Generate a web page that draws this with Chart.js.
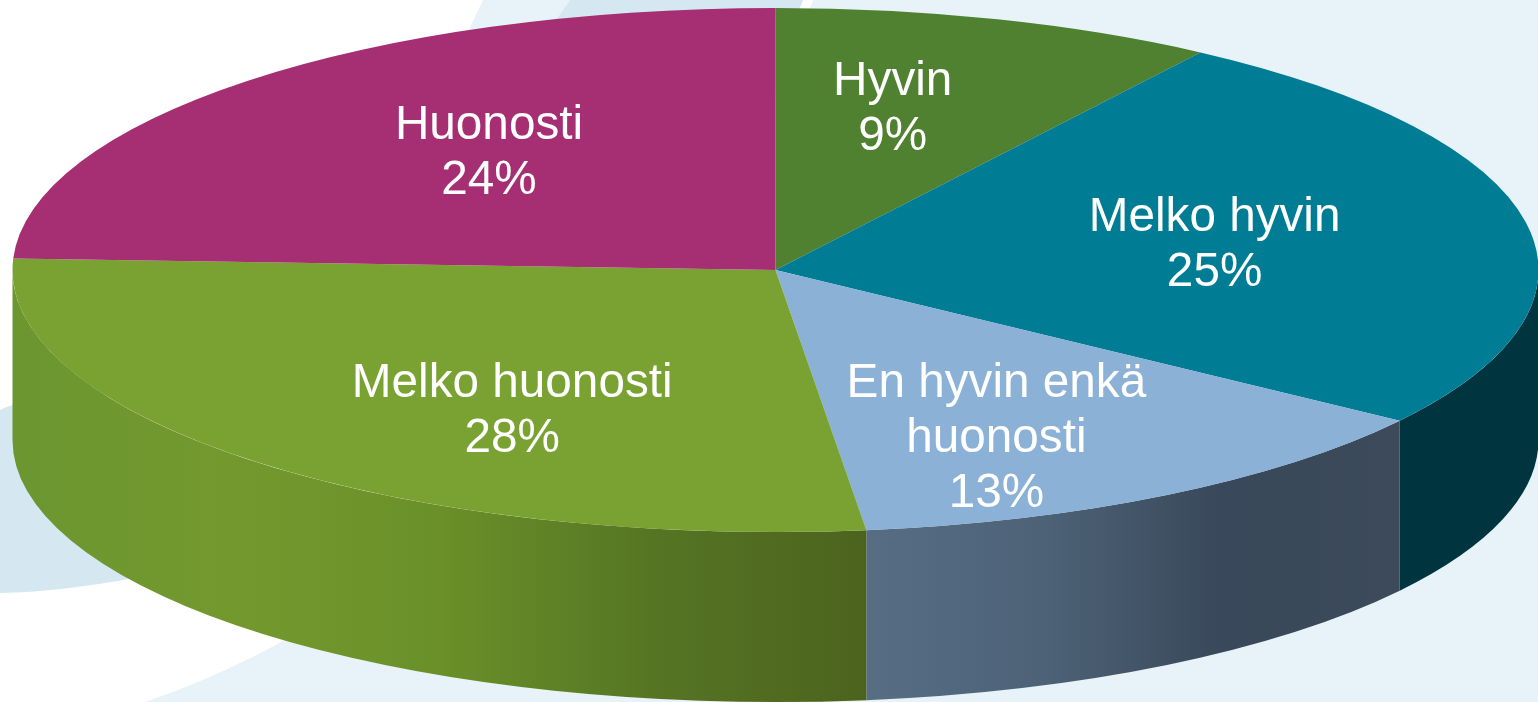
<!DOCTYPE html>
<html lang="fi">
<head>
<meta charset="utf-8">
<title>Kuinka hyvin</title>
<script src="https://cdn.jsdelivr.net/npm/chart.js@4"></script>
<style>
  html, body { margin: 0; padding: 0; background: #fff; overflow: hidden; }
  #wrap { position: relative; width: 1538px; height: 702px; }
  #bg { position: absolute; left: 0; top: 0; }
  #pie { position: absolute; left: 0; top: 0; }
</style>
</head>
<body>
<div id="wrap">
  <svg id="bg" width="1538" height="702" viewBox="0 0 1538 702">
    <path fill="#e7f3f8" d="M483 0 L440 90 L1538 90 L1538 0 Z"/>
    <path fill="#ffffff" d="M803 0 L813 0 L805 20 L795 20 Z"/>
    <path fill="#d5e8f1" d="M570 0 L803 0 L795 20 L556 20 Z"/>
    <rect fill="#e7f3f8" x="800" y="20" width="738" height="682"/>
    <path fill="#e7f3f8" d="M145 702 Q215 678 285 640 L900 640 L900 702 Z"/>
    <path fill="#d5e8f1" d="M0 410 Q8 406 20 403 L200 500 L140 577 Q60 592 0 593 Z"/>
  </svg>
  <canvas id="pie" width="1538" height="702"></canvas>
</div>
<script>
const categories = ['Hyvin', 'Melko hyvin', ['En hyvin enkä', 'huonosti'], 'Melko huonosti', 'Huonosti']
const shares = [9.4, 25.35, 13.35, 27.6, 24.3]
const topColors = ['#4f8130', '#007c94', '#8bb1d6', '#7aa232', '#a62f73']
const wallStops = [
  ['#4f8130', '#4f8130'],
  ['#00343f', '#00343f'],
  ['#566d84', '#4d6277', '#39485a', '#3c4a5a'],
  ['#6b9630', '#73992e', '#6a9029', '#567524', '#4c631d'],
  ['#a62f73', '#a62f73'],
]
const labelNudge = [[-16, -10], [-11, 4], [-14, 34], [48, 26], [30, -3]]

const RADIUS = 763
const SQUASH = 262 / 763
const DEPTH = 170
const LINE_HEIGHT = 55

// the pie is flattened into an ellipse, the side wall is painted under it
const tiltPlugin = {
  id: 'tilt',
  beforeDatasetsDraw(chart) {
    const ctx = chart.ctx
    const arcs = chart.getDatasetMeta(0).data
    const cx = arcs[0].x
    const cy = arcs[0].y
    const ry = RADIUS * SQUASH

    arcs.forEach((arc, i) => {
      const a0 = Math.max(arc.startAngle, 0)
      const a1 = Math.min(arc.endAngle, Math.PI)
      if (a1 <= a0) return

      const x0 = cx + RADIUS * Math.cos(a1)
      const x1 = cx + RADIUS * Math.cos(a0)
      const grad = ctx.createLinearGradient(x0, 0, x1, 0)
      wallStops[i].forEach((c, j) => grad.addColorStop(j / (wallStops[i].length - 1), c))

      ctx.beginPath()
      ctx.ellipse(cx, cy, RADIUS, ry, 0, a0, a1, false)
      ctx.ellipse(cx, cy + DEPTH, RADIUS, ry, 0, a1, a0, true)
      ctx.closePath()
      ctx.fillStyle = grad
      ctx.fill()
    })

    ctx.save()
    ctx.translate(0, cy)
    ctx.scale(1, SQUASH)
    ctx.translate(0, -cy)
  },
  afterDatasetsDraw(chart) {
    chart.ctx.restore()
  },
  afterDraw(chart) {
    const ctx = chart.ctx
    const arcs = chart.getDatasetMeta(0).data
    ctx.save()
    ctx.fillStyle = '#ffffff'
    ctx.font = '47.7px "Liberation Sans", Arial, sans-serif'
    ctx.textAlign = 'center'
    ctx.textBaseline = 'middle'
    arcs.forEach((arc, i) => {
      const mid = (arc.startAngle + arc.endAngle) / 2
      const x = arc.x + 0.6 * RADIUS * Math.cos(mid) + labelNudge[i][0]
      const y = arc.y + 0.6 * RADIUS * SQUASH * Math.sin(mid) + labelNudge[i][1]
      const lines = [].concat(categories[i], `${Math.round(shares[i])}%`)
      const top = y - ((lines.length - 1) * LINE_HEIGHT) / 2
      lines.forEach((line, j) => ctx.fillText(line, x, top + j * LINE_HEIGHT))
    })
    ctx.restore()
  },
}

new Chart(document.getElementById('pie'), {
  type: 'pie',
  data: {
    labels: categories,
    datasets: [{
      data: shares,
      backgroundColor: topColors,
      borderWidth: 0,
    }],
  },
  options: {
    responsive: false,
    animation: false,
    radius: RADIUS,
    layout: { padding: { left: 13, bottom: 162 } },
    plugins: {
      legend: { display: false },
      tooltip: { enabled: false },
    },
  },
  plugins: [tiltPlugin],
})
</script>
</body>
</html>
